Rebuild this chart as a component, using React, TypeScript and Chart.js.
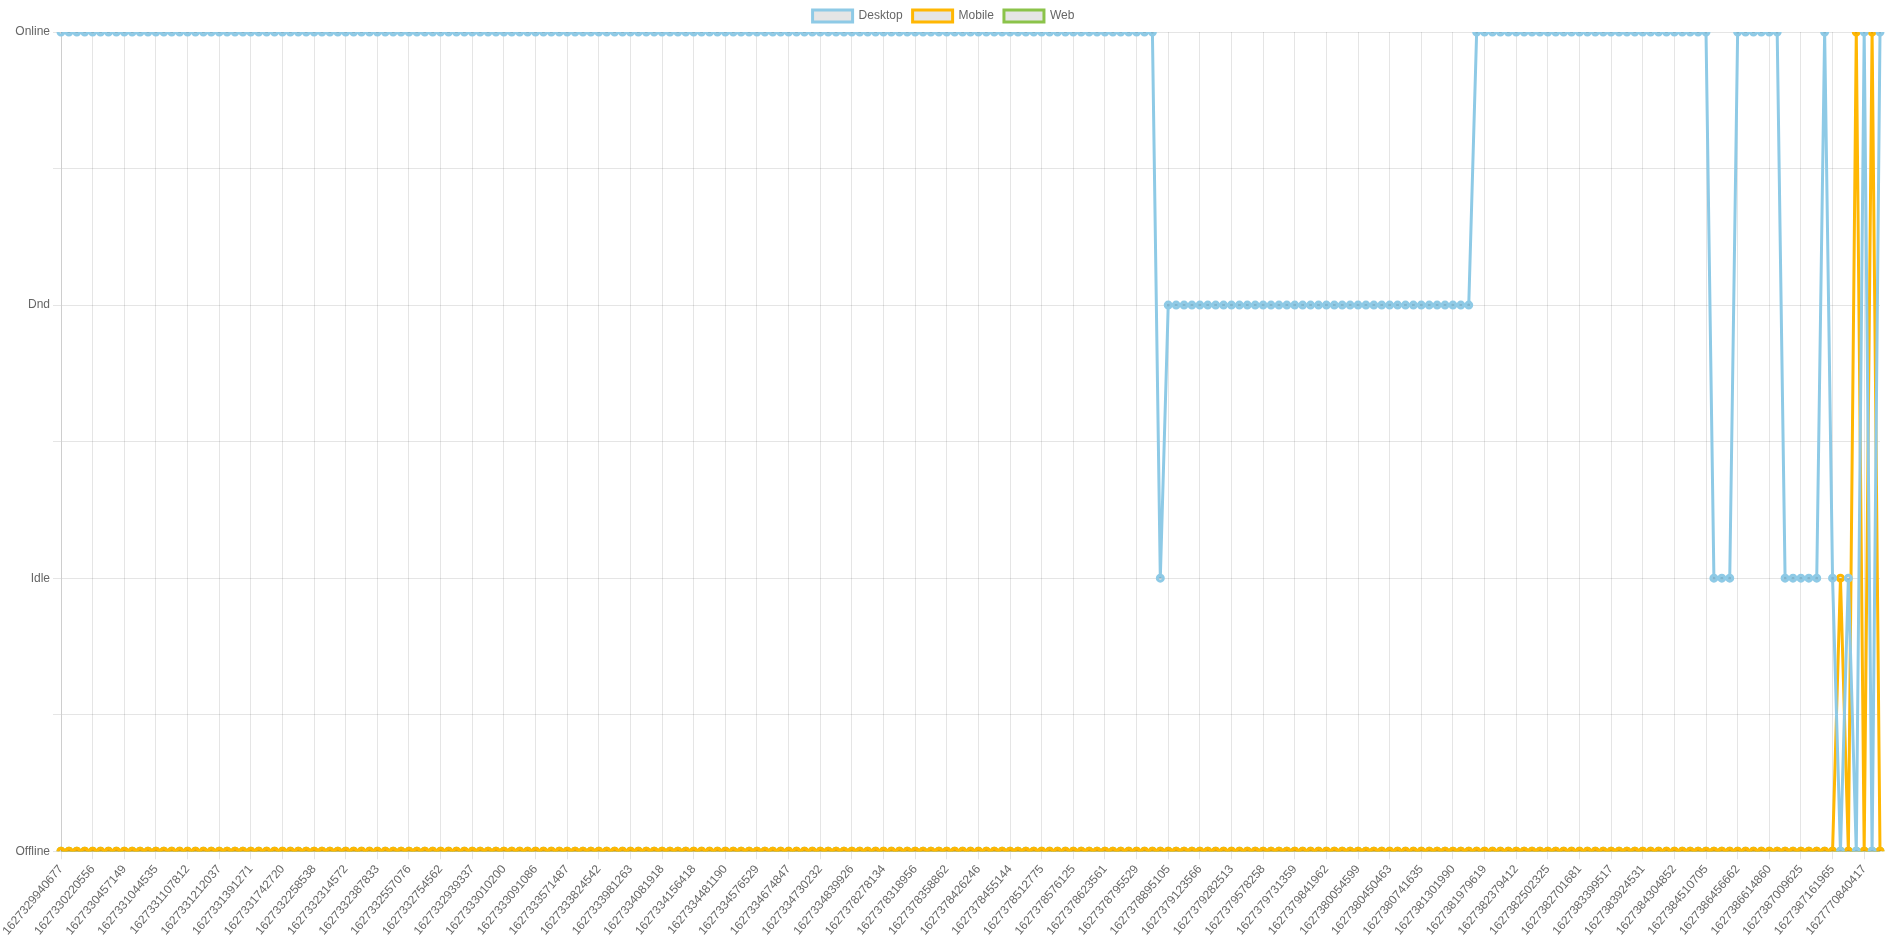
import React, { useEffect, useRef } from 'react';
import { Chart, registerables } from 'chart.js';

Chart.register(...registerables);

// status levels on the y axis
const statusNames = ['Offline', 'Idle', 'Dnd', 'Online'];

// timestamps shown under the x axis (every 4th sample)
const visibleStamps = [
  '1627329940677', '1627330220556', '1627330457149', '1627331044535', '1627331107812',
  '1627331212037', '1627331391271', '1627331742720', '1627332258538', '1627332314572',
  '1627332387833', '1627332557076', '1627332754562', '1627332939337', '1627333010200',
  '1627333091086', '1627333571487', '1627333824542', '1627333981263', '1627334081918',
  '1627334156418', '1627334481190', '1627334576529', '1627334674847', '1627334730232',
  '1627334839926', '1627378278134', '1627378318956', '1627378358862', '1627378426246',
  '1627378455144', '1627378512775', '1627378576125', '1627378623561', '1627378795529',
  '1627378895105', '1627379123566', '1627379282513', '1627379578258', '1627379731359',
  '1627379841962', '1627380054599', '1627380450463', '1627380741635', '1627381301990',
  '1627381979619', '1627382379412', '1627382502325', '1627382701681', '1627383399517',
  '1627383924531', '1627384304852', '1627384510705', '1627386456662', '1627386614860',
  '1627387009625', '1627387161965', '1627770840417',
];

// 0 = Offline, 1 = Idle, 2 = Dnd, 3 = Online  (30 samples per row)
const desktop = [
  3, 3, 3, 3, 3, 3, 3, 3, 3, 3, 3, 3, 3, 3, 3, 3, 3, 3, 3, 3, 3, 3, 3, 3, 3, 3, 3, 3, 3, 3,
  3, 3, 3, 3, 3, 3, 3, 3, 3, 3, 3, 3, 3, 3, 3, 3, 3, 3, 3, 3, 3, 3, 3, 3, 3, 3, 3, 3, 3, 3,
  3, 3, 3, 3, 3, 3, 3, 3, 3, 3, 3, 3, 3, 3, 3, 3, 3, 3, 3, 3, 3, 3, 3, 3, 3, 3, 3, 3, 3, 3,
  3, 3, 3, 3, 3, 3, 3, 3, 3, 3, 3, 3, 3, 3, 3, 3, 3, 3, 3, 3, 3, 3, 3, 3, 3, 3, 3, 3, 3, 3,
  3, 3, 3, 3, 3, 3, 3, 3, 3, 3, 3, 3, 3, 3, 3, 3, 3, 3, 3, 1, 2, 2, 2, 2, 2, 2, 2, 2, 2, 2,
  2, 2, 2, 2, 2, 2, 2, 2, 2, 2, 2, 2, 2, 2, 2, 2, 2, 2, 2, 2, 2, 2, 2, 2, 2, 2, 2, 2, 2, 3,
  3, 3, 3, 3, 3, 3, 3, 3, 3, 3, 3, 3, 3, 3, 3, 3, 3, 3, 3, 3, 3, 3, 3, 3, 3, 3, 3, 3, 3, 1,
  1, 1, 3, 3, 3, 3, 3, 3, 1, 1, 1, 1, 1, 3, 1, 0, 1, 0, 3, 0, 3,
];

const mobile = [
  0, 0, 0, 0, 0, 0, 0, 0, 0, 0, 0, 0, 0, 0, 0, 0, 0, 0, 0, 0, 0, 0, 0, 0, 0, 0, 0, 0, 0, 0,
  0, 0, 0, 0, 0, 0, 0, 0, 0, 0, 0, 0, 0, 0, 0, 0, 0, 0, 0, 0, 0, 0, 0, 0, 0, 0, 0, 0, 0, 0,
  0, 0, 0, 0, 0, 0, 0, 0, 0, 0, 0, 0, 0, 0, 0, 0, 0, 0, 0, 0, 0, 0, 0, 0, 0, 0, 0, 0, 0, 0,
  0, 0, 0, 0, 0, 0, 0, 0, 0, 0, 0, 0, 0, 0, 0, 0, 0, 0, 0, 0, 0, 0, 0, 0, 0, 0, 0, 0, 0, 0,
  0, 0, 0, 0, 0, 0, 0, 0, 0, 0, 0, 0, 0, 0, 0, 0, 0, 0, 0, 0, 0, 0, 0, 0, 0, 0, 0, 0, 0, 0,
  0, 0, 0, 0, 0, 0, 0, 0, 0, 0, 0, 0, 0, 0, 0, 0, 0, 0, 0, 0, 0, 0, 0, 0, 0, 0, 0, 0, 0, 0,
  0, 0, 0, 0, 0, 0, 0, 0, 0, 0, 0, 0, 0, 0, 0, 0, 0, 0, 0, 0, 0, 0, 0, 0, 0, 0, 0, 0, 0, 0,
  0, 0, 0, 0, 0, 0, 0, 0, 0, 0, 0, 0, 0, 0, 0, 1, 0, 3, 0, 3, 0,
];

const web = [
  0, 0, 0, 0, 0, 0, 0, 0, 0, 0, 0, 0, 0, 0, 0, 0, 0, 0, 0, 0, 0, 0, 0, 0, 0, 0, 0, 0, 0, 0,
  0, 0, 0, 0, 0, 0, 0, 0, 0, 0, 0, 0, 0, 0, 0, 0, 0, 0, 0, 0, 0, 0, 0, 0, 0, 0, 0, 0, 0, 0,
  0, 0, 0, 0, 0, 0, 0, 0, 0, 0, 0, 0, 0, 0, 0, 0, 0, 0, 0, 0, 0, 0, 0, 0, 0, 0, 0, 0, 0, 0,
  0, 0, 0, 0, 0, 0, 0, 0, 0, 0, 0, 0, 0, 0, 0, 0, 0, 0, 0, 0, 0, 0, 0, 0, 0, 0, 0, 0, 0, 0,
  0, 0, 0, 0, 0, 0, 0, 0, 0, 0, 0, 0, 0, 0, 0, 0, 0, 0, 0, 0, 0, 0, 0, 0, 0, 0, 0, 0, 0, 0,
  0, 0, 0, 0, 0, 0, 0, 0, 0, 0, 0, 0, 0, 0, 0, 0, 0, 0, 0, 0, 0, 0, 0, 0, 0, 0, 0, 0, 0, 0,
  0, 0, 0, 0, 0, 0, 0, 0, 0, 0, 0, 0, 0, 0, 0, 0, 0, 0, 0, 0, 0, 0, 0, 0, 0, 0, 0, 0, 0, 0,
  0, 0, 0, 0, 0, 0, 0, 0, 0, 0, 0, 0, 0, 0, 0, 0, 0, 0, 0, 0, 0,
];

const LABEL_STEP = 4;

const StatusChart: React.FC = () => {
  const chartRef = useRef<HTMLCanvasElement | null>(null);
  const chartInstance = useRef<Chart | null>(null);

  useEffect(() => {
    document.body.style.margin = '0';
    if (!chartRef.current) return;
    const ctx = chartRef.current.getContext('2d');
    if (!ctx) return;

    // only every 4th sample carries a visible stamp
    const labels = desktop.map((_, i) =>
      i % LABEL_STEP === 0 ? visibleStamps[i / LABEL_STEP] ?? '' : ''
    );

    chartInstance.current = new Chart(ctx, {
      type: 'line',
      data: {
        labels,
        datasets: [
          { label: 'Desktop', data: desktop, borderColor: '#8ecae6', borderWidth: 3, fill: false, tension: 0 },
          { label: 'Mobile', data: mobile, borderColor: '#ffb703', borderWidth: 3, fill: false, tension: 0 },
          { label: 'Web', data: web, borderColor: '#8bc34a', borderWidth: 3, fill: false, tension: 0 },
        ],
      },
      options: {
        animation: false,
        responsive: true,
        maintainAspectRatio: false,
        layout: { padding: { bottom: 2 } },
        plugins: {
          legend: { display: true },
          tooltip: { enabled: false },
        },
        scales: {
          x: {
            afterBuildTicks: (scale: any) => {
              scale.ticks = scale.ticks.filter((_: any, i: number) => i % LABEL_STEP === 0);
            },
            ticks: { autoSkip: false, minRotation: 50, maxRotation: 50 },
          },
          y: {
            min: 0,
            max: 3,
            afterFit: (scale: any) => {
              scale.width = 61;
            },
            ticks: {
              stepSize: 0.5,
              callback: (v: any) => (Number.isInteger(v) ? statusNames[v] : ''),
            },
          },
        },
      },
    });

    return () => {
      if (chartInstance.current) {
        chartInstance.current.destroy();
        chartInstance.current = null;
      }
    };
  }, []);

  return (
    <div style={{ position: 'fixed', left: 0, top: 0, width: '100vw', height: '100vh' }}>
      <canvas ref={chartRef}></canvas>
    </div>
  );
};

export default function App() {
  return <StatusChart />;
}
